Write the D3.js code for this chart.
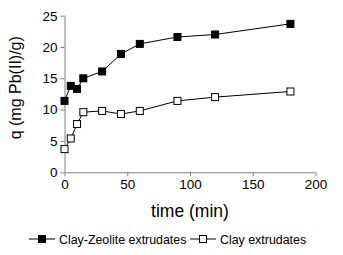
<!DOCTYPE html>
<html>
<head>
<meta charset="utf-8">
<script src="https://cdn.jsdelivr.net/npm/d3@7"></script>
<style>
  body { margin: 0; background: #fff; }
  svg { display: block; font-family: "Liberation Sans", Arial, sans-serif; }
</style>
</head>
<body>
<div id="chart"></div>
<script>
// time points (min)
const times = [0, 5, 10, 15, 30, 45, 60, 90, 120, 180];
// q values
const clayZeolite = [11.4, 13.8, 13.3, 15.0, 16.1, 18.9, 20.5, 21.6, 22.0, 23.7];
const clay = [3.7, 5.4, 7.7, 9.6, 9.8, 9.3, 9.8, 11.4, 12.0, 12.9];
const xTicks = [0, 50, 100, 150, 200];
const yTicks = [0, 5, 10, 15, 20, 25];
const seriesNames = ['Clay-Zeolite extrudates', 'Clay extrudates'];

const width = 343, height = 255;
const margin = {left: 64.5, right: 27.5, top: 15.7, bottom: 82.7};

const svg = d3.select('#chart').append('svg')
    .attr('width', width)
    .attr('height', height);

const x = d3.scaleLinear().domain([0, 200]).range([margin.left, width - margin.right]);
const y = d3.scaleLinear().domain([0, 25]).range([height - margin.bottom, margin.top]);

const axisColor = '#808080';

// y axis
const yAxis = svg.append('g')
    .attr('transform', `translate(${x(0)},0)`)
    .call(d3.axisLeft(y).tickValues(yTicks).tickSize(4).tickPadding(3));
// x axis
const xAxis = svg.append('g')
    .attr('transform', `translate(0,${y(0)})`)
    .call(d3.axisBottom(x).tickValues(xTicks).tickSize(4).tickPadding(3));

[xAxis, yAxis].forEach(g => {
    g.select('.domain').attr('stroke', axisColor);
    g.selectAll('.tick line').attr('stroke', axisColor);
    g.selectAll('.tick text').attr('fill', '#000').style('font-size', '13.5px');
});
xAxis.selectAll('.domain').attr('d', `M${x(0)},0.5H${x(200)}`);
yAxis.selectAll('.domain').attr('d', `M0.5,${y(0)}V${y(25)}`);

// axis titles
svg.append('text')
    .attr('x', 190)
    .attr('y', 217)
    .attr('text-anchor', 'middle')
    .style('font-size', '17.5px')
    .text('time (min)');

svg.append('text')
    .attr('transform', `translate(21,${y(13.5)}) rotate(-90)`)
    .attr('text-anchor', 'middle')
    .style('font-size', '16px')
    .text('q (mg Pb(II)/g)');

// series
const series = [
    {name: seriesNames[0], values: clayZeolite, fill: '#000'},
    {name: seriesNames[1], values: clay, fill: '#fff'}
];

const line = d3.line()
    .x((d, i) => x(times[i]))
    .y(d => y(d));

const ms = 7;
series.forEach(s => {
    svg.append('path')
        .datum(s.values)
        .attr('fill', 'none')
        .attr('stroke', '#000')
        .attr('stroke-width', 1)
        .attr('d', line);
    svg.append('g')
        .selectAll('rect')
        .data(s.values)
        .join('rect')
        .attr('x', (d, i) => x(times[i]) - ms / 2)
        .attr('y', d => y(d) - ms / 2)
        .attr('width', ms)
        .attr('height', ms)
        .attr('fill', s.fill)
        .attr('stroke', '#000')
        .attr('stroke-width', 1);
});

// legend
const legendX = [29, 190];
const ly = 239;
series.forEach((s, i) => {
    const g = svg.append('g').attr('transform', `translate(${legendX[i]},${ly})`);
    g.append('line')
        .attr('x1', 0).attr('x2', 26)
        .attr('y1', 0).attr('y2', 0)
        .attr('stroke', '#000');
    g.append('rect')
        .attr('x', 13 - ms / 2).attr('y', -ms / 2)
        .attr('width', ms).attr('height', ms)
        .attr('fill', s.fill)
        .attr('stroke', '#000');
    g.append('text')
        .attr('x', 30)
        .attr('y', 4.5)
        .style('font-size', '12.4px')
        .text(s.name);
});
</script>
</body>
</html>
